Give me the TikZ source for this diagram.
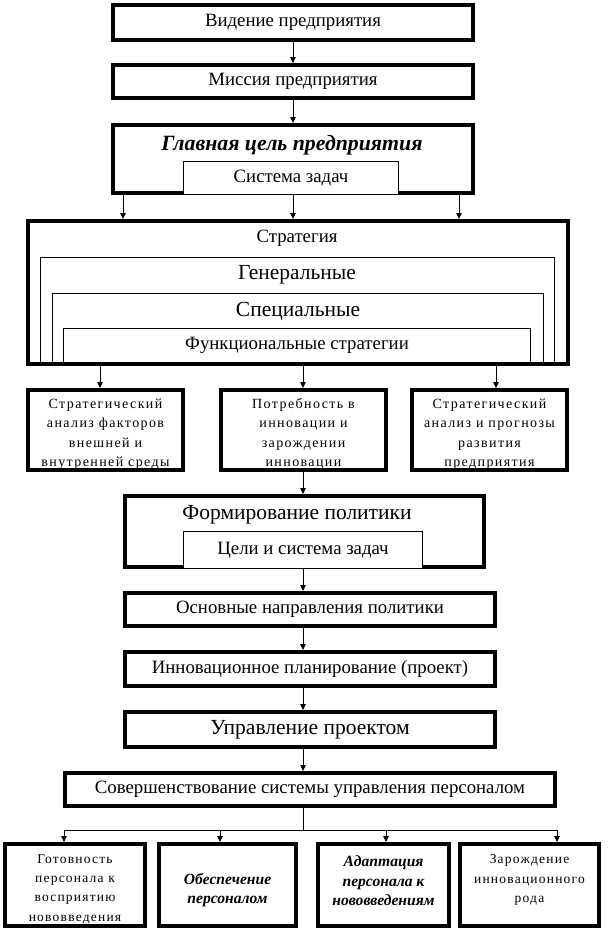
\documentclass[tikz,border=0pt]{standalone}
\usepackage{fontspec}
\setmainfont{Liberation Serif}
\newfontfamily\spc[LetterSpace=10]{Liberation Serif}
\newfontfamily\spcb[LetterSpace=9]{Liberation Serif}
\usetikzlibrary{arrows.meta}
\newcommand\fsM{\fontsize{18.8}{20}\selectfont}
\newcommand\fsL{\fontsize{21.5}{23}\selectfont}
\newcommand\fsT{\fontsize{21.8}{23}\selectfont}
\newcommand\fsS{\spc\fontsize{14}{19.5}\selectfont}
\newcommand\fsSb{\spcb\fontsize{13.5}{19.3}\selectfont}
\newcommand\fsB{\fontsize{15.6}{19.5}\selectfont\bfseries\itshape}
\begin{document}
\begin{tikzpicture}[x=1pt,y=-1pt,
  bx/.style={draw, line width=4pt, fill=white, inner sep=0pt, outer sep=2pt},
  ob/.style={draw, line width=4pt, inner sep=0pt, outer sep=2pt},
  tb/.style={draw, line width=1pt, fill=white, inner sep=0pt, outer sep=0.5pt},
  txt/.style={inner sep=0pt, align=center},
  arr/.style={-{Triangle[length=6pt,width=5.5pt]}, line width=0.8pt},
  ln/.style={line width=0.8pt}]
\useasboundingbox (0,0) rectangle (608,932);
\fill[white] (0,0) rectangle (608,932);
% top column
\node[bx, minimum width=360pt, minimum height=35pt, font=\fsM] (vid) at (293,22.5) {Видение предприятия};
\node[bx, minimum width=360pt, minimum height=33pt, font=\fsM] (mis) at (293,81.5) {Миссия предприятия};
\node[bx, minimum width=360pt, minimum height=68pt] (glav) at (293,159) {};
\node[txt, font=\fsT\bfseries\itshape] (glavt) at (292,145) {Главная цель предприятия};
\node[tb, minimum width=215pt, minimum height=33pt, font=\fsM] (sis) at (291,178) {Система задач};
\draw[arr] (vid) -- (mis);
\draw[arr] (mis) -- (glav);
% strategy
\node[bx, minimum width=540pt, minimum height=143pt] (str) at (298,292.5) {};
\coordinate (c1) at (123,0);
\coordinate (c2) at (293,0);
\coordinate (c3) at (459,0);
\draw[arr] (glav.south -| c1) -- (str.north -| c1);
\draw[arr] (sis.south -| c2) -- (str.north -| c2);
\draw[arr] (glav.south -| c3) -- (str.north -| c3);
\node[txt, font=\fsM] (strt) at (297,238) {Стратегия};
\node[tb, minimum width=514pt, minimum height=105pt] (gen) at (297.25,310) {};
\node[txt, font=\fsL] (gent) at (297,275) {Генеральные};
\node[tb, minimum width=491pt, minimum height=69pt] (spe) at (297.5,328) {};
\node[txt, font=\fsL] (spet) at (298,311) {Специальные};
\node[tb, minimum width=467pt, minimum height=34pt, font=\fsM] (fun) at (297,345.5) {Функциональные стратегии};
% middle boxes
\coordinate (d1) at (100,0);
\coordinate (d2) at (303,0);
\coordinate (d3) at (496,0);
\node[txt, font=\fsS] (mat) at (105.5,434) {Стратегический\\анализ факторов\\внешней и\\внутренней среды};
\node[ob, minimum width=155pt, minimum height=80pt] (ma) at (105.5,430) {};
\node[txt, font=\fsS] (mbt) at (303.5,434) {Потребность в\\инновации и\\зарождении\\инновации};
\node[ob, minimum width=165pt, minimum height=80pt] (mb) at (303.5,430) {};
\node[txt, font=\fsS] (mct) at (489.5,434) {Стратегический\\анализ и прогнозы\\развития\\предприятия};
\node[ob, minimum width=155pt, minimum height=80pt] (mc) at (489.5,430) {};
\draw[arr] (str.south -| d1) -- (ma.north -| d1);
\draw[arr] (str.south -| d2) -- (mb.north -| d2);
\draw[arr] (str.south -| d3) -- (mc.north -| d3);
% policy
\node[bx, minimum width=359pt, minimum height=71pt] (pol) at (304.5,531.5) {};
\node[txt, font=\fsL] (polt) at (297,515) {Формирование политики};
\node[tb, minimum width=239pt, minimum height=37pt, font=\fsM] (cel) at (303,550) {Цели и система задач};
\draw[arr] (mb.south -| d2) -- (pol.north -| d2);
\node[bx, minimum width=370pt, minimum height=33pt, font=\fsM] (osn) at (310,609.5) {Основные направления политики};
\node[bx, minimum width=370pt, minimum height=34pt, font=\fsM] (inn) at (310,669) {Инновационное планирование (проект)};
\node[bx, minimum width=370pt, minimum height=35pt, font=\fsL] (upr) at (310,729.5) {Управление проектом};
\node[bx, minimum width=490pt, minimum height=33pt, font=\fsM] (sov) at (310,789.5) {Совершенствование системы управления персоналом};
\draw[arr] (cel.south -| d2) -- (osn.north -| d2);
\draw[arr] (osn.south -| d2) -- (inn.north -| d2);
\draw[arr] (inn.south -| d2) -- (upr.north -| d2);
\draw[arr] (upr.south -| d2) -- (sov.north -| d2);
% bottom
\node[bx, minimum width=140pt, minimum height=82pt] (b1) at (75,885) {};
\node[txt, font=\fsSb] (b1t) at (75,889) {Готовность\\персонала к\\восприятию\\нововведения};
\node[bx, minimum width=137pt, minimum height=82pt] (b2) at (227.5,885) {};
\node[txt, font=\fsB] (b2t) at (227.5,890) {Обеспечение\\персоналом};
\node[bx, minimum width=131pt, minimum height=82pt] (b3) at (383.5,885) {};
\node[txt, font=\fsB] (b3t) at (383.5,881) {Адаптация\\персонала к\\нововведениям};
\node[bx, minimum width=139pt, minimum height=82pt] (b4) at (529.5,885) {};
\node[txt, font=\fsSb] (b4t) at (529.5,880) {Зарождение\\инновационного\\рода};
\coordinate (j) at (303,830);
\coordinate (e1) at (64,830);
\coordinate (e2) at (220,830);
\coordinate (e3) at (386,830);
\coordinate (e4) at (557,830);
\draw[ln] (sov.south -| j) -- (j);
\draw[ln] (e1) -- (e4);
\draw[arr] (e1) -- (b1.north -| e1);
\draw[arr] (e2) -- (b2.north -| e2);
\draw[arr] (e3) -- (b3.north -| e3);
\draw[arr] (e4) -- (b4.north -| e4);
\end{tikzpicture}
\end{document}
